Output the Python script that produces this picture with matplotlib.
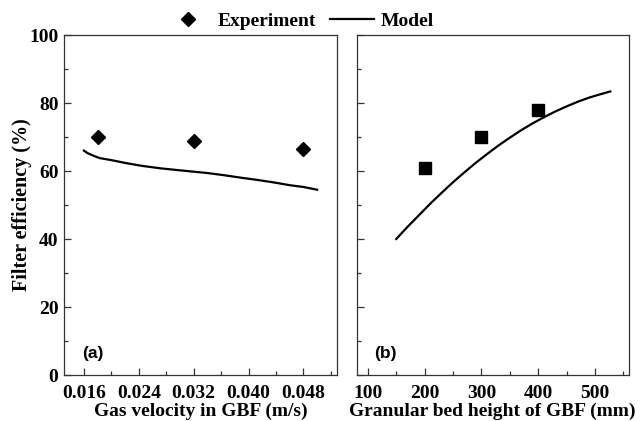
import numpy as np
import matplotlib.pyplot as plt
from matplotlib.lines import Line2D
from matplotlib.ticker import MultipleLocator, FixedLocator

# (a) gas velocity
vel_exp = [0.018, 0.032, 0.048]
eff_vel_exp = [70.0, 68.8, 66.4]
vel_model = [0.016, 0.0165, 0.0175, 0.0183, 0.020, 0.0222, 0.0245, 0.0271, 0.0295, 0.0320,
             0.0340, 0.0363, 0.0390, 0.0412, 0.0435, 0.0461, 0.0480, 0.0500]
eff_vel_model = [66.0, 65.3, 64.4, 63.8, 63.2, 62.3, 61.5, 60.8, 60.3, 59.8,
                 59.4, 58.8, 58.0, 57.4, 56.7, 55.8, 55.3, 54.5]

# (b) bed height
h_exp = [200, 300, 400]
eff_h_exp = [61.0, 70.0, 77.8]
h_model = [150, 170, 190, 210, 230, 250, 270, 290, 310, 330, 350, 370, 390, 410, 430, 450, 470, 490, 510, 527]
eff_h_model = [40.0, 43.6, 47.0, 50.4, 53.6, 56.7, 59.6, 62.4, 65.0, 67.5, 69.8, 72.0, 74.0, 75.8,
               77.5, 79.0, 80.4, 81.6, 82.6, 83.4]

serif = 'Liberation Serif'
sans = 'Liberation Sans'
spine_c = '#333333'

fig = plt.figure(figsize=(6.4, 4.21), dpi=100)
ax1 = fig.add_axes([64 / 640, 46 / 421, 273 / 640, 340 / 421])
ax2 = fig.add_axes([356.5 / 640, 46 / 421, 272 / 640, 340 / 421])

ax1.plot(vel_model, eff_vel_model, color='black', lw=1.6)
ax1.plot(vel_exp, eff_vel_exp, 'D', color='black', ms=7)
ax2.plot(h_model, eff_h_model, color='black', lw=1.6)
ax2.plot(h_exp, eff_h_exp, 's', color='black', ms=8.5)

ax1.set_xlim(0.0131, 0.0529)
ax2.set_xlim(80, 559)
for ax in (ax1, ax2):
    ax.set_ylim(0, 100)
    ax.yaxis.set_major_locator(MultipleLocator(20))
    ax.yaxis.set_minor_locator(MultipleLocator(10))
    ax.tick_params(which='both', direction='in', top=False, right=False, color=spine_c, width=0.9)
    ax.tick_params(which='major', length=5)
    ax.tick_params(which='minor', length=3)
    ax.tick_params(axis='x', which='major', pad=7)
    ax.tick_params(axis='y', which='major', pad=4)
    for s in ax.spines.values():
        s.set_color(spine_c)
        s.set_linewidth(0.9)

ax1.xaxis.set_major_locator(FixedLocator([0.016, 0.024, 0.032, 0.040, 0.048]))
ax1.xaxis.set_minor_locator(FixedLocator([0.020, 0.028, 0.036, 0.044, 0.052]))
ax1.set_xticklabels(['0.016', '0.024', '0.032', '0.040', '0.048'])
ax2.xaxis.set_major_locator(MultipleLocator(100))
ax2.xaxis.set_minor_locator(FixedLocator([150, 250, 350, 450, 550]))
ax2.set_yticklabels([])

for ax in (ax1, ax2):
    for lab in ax.get_xticklabels() + ax.get_yticklabels():
        lab.set_fontfamily(serif)
        lab.set_fontweight('bold')
        lab.set_fontsize(14)

ax1.set_xlabel('Gas velocity in GBF (m/s)', fontfamily=serif, fontweight='bold', fontsize=14, labelpad=1)
ax2.set_xlabel('Granular bed height of GBF (mm)', fontfamily=serif, fontweight='bold', fontsize=14, labelpad=1)
ax1.set_ylabel('Filter efficiency (%)', fontfamily=serif, fontweight='bold', fontsize=14.5)
ax1.yaxis.set_label_coords(-0.117, 0.5)

ax1.text(0.106, 0.062, '(a)', transform=ax1.transAxes, ha='center', va='center',
         fontfamily=sans, fontweight='bold', fontsize=12.5)
ax2.text(0.107, 0.062, '(b)', transform=ax2.transAxes, ha='center', va='center',
         fontfamily=sans, fontweight='bold', fontsize=12.5)

handles = [Line2D([], [], marker='D', ls='none', color='black', ms=7),
           Line2D([], [], color='black', lw=1.6)]
fig.legend(handles, ['Experiment', 'Model'], loc='center', bbox_to_anchor=(300 / 640, 1 - 21 / 421),
           ncol=2, frameon=False, handlelength=2.3, handletextpad=0.33, columnspacing=0.72,
           prop={'family': serif, 'weight': 'bold', 'size': 14})

fig.savefig('out.png', dpi=100)
